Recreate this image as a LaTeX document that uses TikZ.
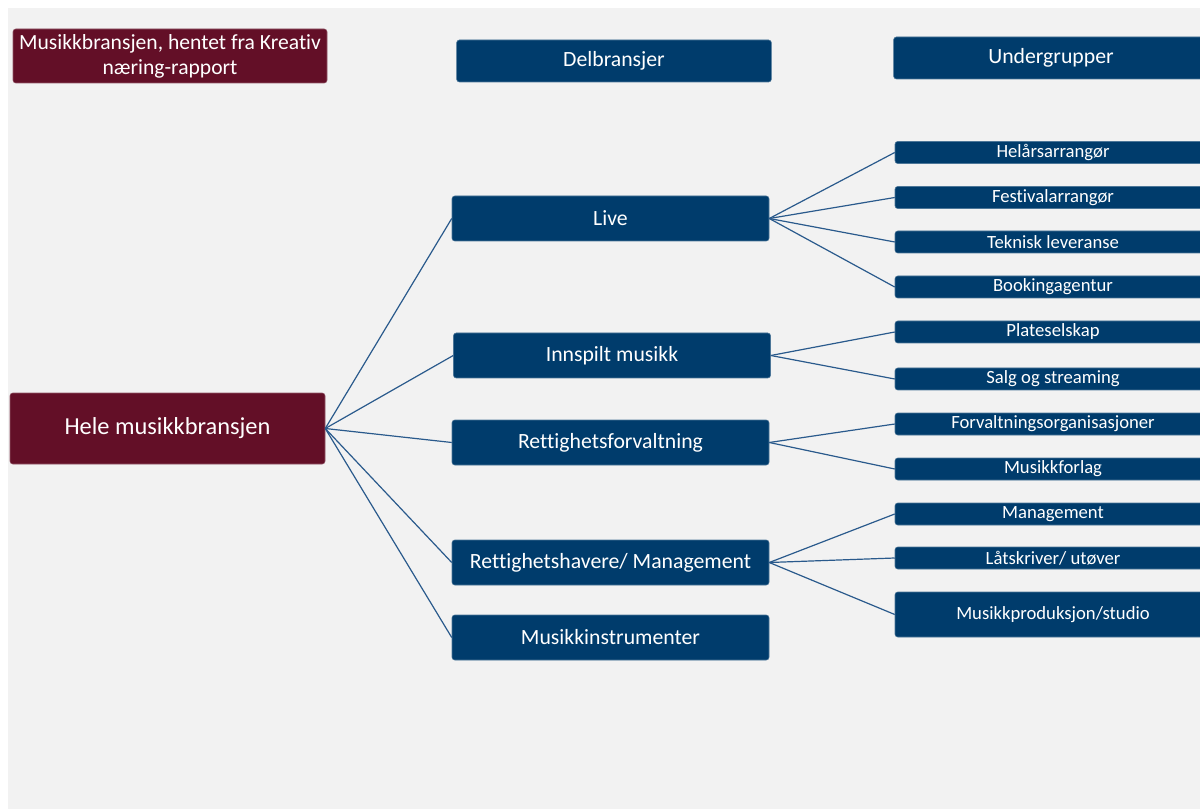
\documentclass[tikz,border=0pt]{standalone}
\usepackage{fontspec}
\setmainfont{Carlito}[Ligatures=CommonOff]
\definecolor{wine}{HTML}{630F27}
\definecolor{navy}{HTML}{003C6C}
\definecolor{bggray}{HTML}{F2F2F2}
\definecolor{linkblue}{HTML}{2A5A8C}
\begin{document}
\begin{tikzpicture}[
    x=0.75pt, y=-0.75pt,
    every node/.style={align=center, text=white, inner sep=1pt},
    topbox/.style={rectangle, rounded corners=2pt, fill=wine, draw=wine!70!white,
                   line width=0.4pt},
    header/.style={rectangle, rounded corners=2pt, fill=navy, draw=navy!70!white,
                   line width=0.4pt, minimum width=236pt, minimum height=31.5pt,
                   font=\fontsize{16.3}{19}\selectfont},
    branch/.style={rectangle, rounded corners=2pt, fill=navy, draw=navy!70!white,
                   line width=0.4pt, minimum width=237.75pt, minimum height=33.75pt,
                   font=\fontsize{16.3}{19}\selectfont},
    subgroup/.style={rectangle, rounded corners=2pt, fill=navy, draw=navy!70!white,
                     line width=0.4pt, minimum width=237pt, minimum height=16.5pt,
                     font=\fontsize{14}{16}\selectfont},
    link/.style={draw=linkblue, line width=0.9pt},
]

% ---------- Canvas ----------
\clip (0,0) rectangle (1200,809);
\fill[bggray] (8,8) rectangle (1200,809);

% ---------- Headings ----------
\node[topbox, minimum width=235.5pt, minimum height=40.5pt,
      font=\fontsize{16.2}{18.75}\selectfont] (title) at (170,56)
    {Musikkbransjen, hentet fra Kreativ\\næring-rapport};
\node[header] (delbr) at (614,61) {Delbransjer};
\node[header] (under) at (1051,58) {Undergrupper};

% ---------- Root ----------
\node[topbox, minimum width=236.25pt, minimum height=53.25pt,
      font=\fontsize{18.3}{22}\selectfont] (hele) at (167.5,428.5)
    {Hele musikkbransjen};

% ---------- Delbransjer ----------
\node[branch] (live)     at (610.5,218.5) {Live};
\node[branch] (innspilt) at (612,355.5)   {Innspilt musikk};
\node[branch] (rforv)    at (610.5,442.5) {Rettighetsforvaltning};
\node[branch] (rhav)     at (610.5,562.5) {Rettighetshavere/ Management};
\node[branch] (instr)    at (610.5,637.5) {Musikkinstrumenter};

% ---------- Undergrupper ----------
\node[subgroup] (helar)   at (1053,152.5) {Helårsarrangør};
\node[subgroup] (fest)    at (1053,197.5) {Festivalarrangør};
\node[subgroup] (teknisk) at (1053,242)   {Teknisk leveranse};
\node[subgroup] (booking) at (1053,287)   {Bookingagentur};
\node[subgroup] (plate)   at (1053,332)   {Plateselskap};
\node[subgroup] (salg)    at (1053,379)   {Salg og streaming};
\node[subgroup] (forvorg) at (1053,424)   {Forvaltningsorganisasjoner};
\node[subgroup] (forlag)  at (1053,469)   {Musikkforlag};
\node[subgroup] (mgmt)    at (1053,514)   {Management};
\node[subgroup] (latskr)  at (1053,558)   {Låtskriver/ utøver};
\node[subgroup, minimum height=33.75pt] (prod) at (1053,614.5)
    {Musikkproduksjon/studio};

% ---------- Edges ----------
\foreach \b in {live, innspilt, rforv, rhav, instr}
    \draw[link] (hele.east) -- (\b.west);

\foreach \s in {helar, fest, teknisk, booking}
    \draw[link] (live.east) -- (\s.west);
\foreach \s in {plate, salg}
    \draw[link] (innspilt.east) -- (\s.west);
\foreach \s in {forvorg, forlag}
    \draw[link] (rforv.east) -- (\s.west);
\foreach \s in {mgmt, latskr, prod}
    \draw[link] (rhav.east) -- (\s.west);

\end{tikzpicture}
\end{document}
